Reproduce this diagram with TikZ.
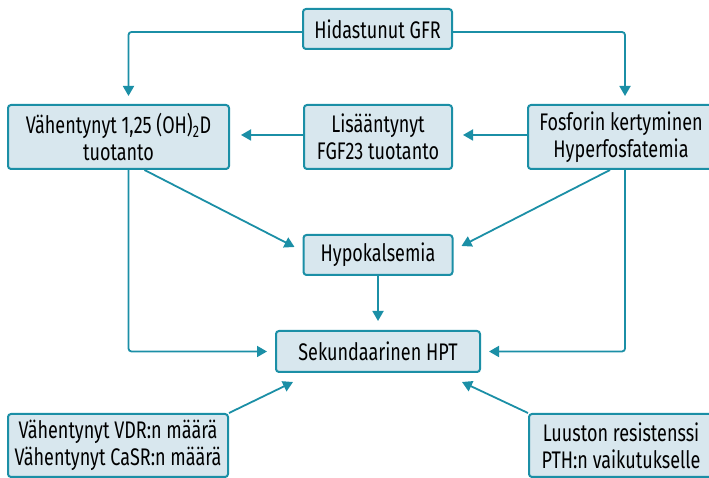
\documentclass[tikz,border=0pt]{standalone}
\usepackage{fontspec}
\setmainfont{Fira Sans}[FakeStretch=0.75]
\usetikzlibrary{arrows.meta}

\definecolor{teal1}{HTML}{1B8FA6}
\definecolor{paleblue}{HTML}{D8E7EE}

\begin{document}
\begin{tikzpicture}[
		x=1pt, y=1pt,
		line width=2pt,
		box/.style={draw=teal1, fill=paleblue, rounded corners=3pt, align=center, inner sep=0pt, minimum height=40pt, font=\fontsize{24}{27}\selectfont},
		tall/.style={box, minimum height=64pt},
		arrow/.style={draw=teal1, line width=1.8pt, -{Triangle[length=10pt,width=11pt]}, rounded corners=3pt},
	]
		\useasboundingbox (0,0) rectangle (709,478);
		\node (gfr) [box, minimum width=149pt] at (377.5,449) {Hidastunut GFR};
		\node (vahent) [tall, minimum width=221pt] at (118.5,341) {Vähentynyt 1,25 (OH)\textsubscript{2}D\\tuotanto};
		\node (fgf) [tall, minimum width=148pt] at (378,341) {Lisääntynyt\\FGF23 tuotanto};
		\node (fosf) [tall, minimum width=186pt] at (621,341) {Fosforin kertyminen\\Hyperfosfatemia};
		\node (hypo) [box, minimum width=149pt] at (378,223) {Hypokalsemia};
		\node (sek) [box, minimum width=204pt, minimum height=41pt] at (378,126.5) {Sekundaarinen HPT};
		\node (vdr) [tall, minimum width=220pt, minimum height=63pt] at (118,32.5) {Vähentynyt VDR:n määrä\\Vähentynyt CaSR:n määrä};
		\node (luu) [tall, minimum width=184pt, minimum height=63pt] at (621,32.5) {Luuston resistenssi\\PTH:n vaikutukselle};
		
		\draw[arrow] ([yshift=-3pt]gfr.west) -| ([xshift=10pt,yshift=8pt]vahent.north);
		\draw[arrow] ([yshift=-3pt]gfr.east) -| ([xshift=4pt,yshift=8pt]fosf.north);
		\draw[arrow] ([yshift=2pt]fgf.west) -- ([xshift=11pt,yshift=2pt]vahent.east);
		\draw[arrow] ([yshift=2pt]fosf.west) -- ([xshift=10pt,yshift=2pt]fgf.east);
		\draw[arrow] ([xshift=26pt]vahent.south) -- ([xshift=-8pt,yshift=8pt]hypo.west);
		\draw[arrow] ([xshift=-11pt]fosf.south) -- ([xshift=8pt,yshift=9pt]hypo.east);
		\draw[arrow] (hypo.south) -- ([yshift=9pt]sek.north);
		\draw[arrow] ([xshift=10pt]vahent.south) |- ([xshift=-8pt]sek.west);
		\draw[arrow] ([xshift=4pt]fosf.south) |- ([xshift=8pt]sek.east);
		\draw[arrow] (vdr.north east) -- ([xshift=18pt,yshift=-9pt]sek.south west);
		\draw[arrow] (luu.north west) -- ([xshift=-19pt,yshift=-9pt]sek.south east);
	\end{tikzpicture}
\end{document}
